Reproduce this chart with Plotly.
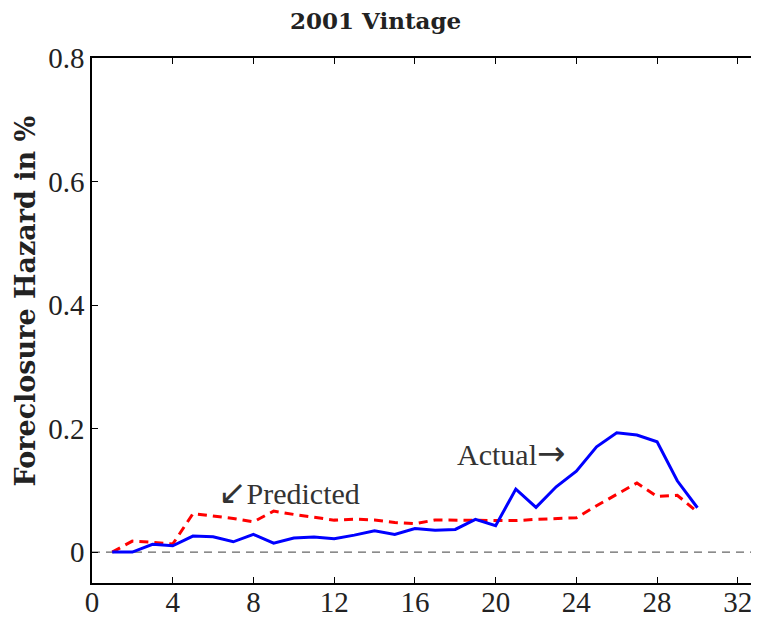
import plotly.graph_objects as go

months = list(range(1, 31))
actual = [0.0, 0.0, 0.0126, 0.0102, 0.0259, 0.0248, 0.0167, 0.0286, 0.0146, 0.0227,
          0.0243, 0.0216, 0.0275, 0.0345, 0.0286, 0.0383, 0.0356, 0.0367, 0.0530, 0.0427,
          0.1020, 0.0724, 0.1058, 0.1310, 0.1706, 0.1933, 0.1895, 0.1787, 0.1155, 0.0718]
predicted = [0.0, 0.0178, 0.0160, 0.0130, 0.0622, 0.0588, 0.0545, 0.0490, 0.0664, 0.0610,
             0.0570, 0.0518, 0.0534, 0.0518, 0.0480, 0.0460, 0.0520, 0.0520, 0.0520, 0.0510,
             0.0510, 0.0530, 0.0540, 0.0556, 0.0750, 0.0940, 0.1120, 0.0900, 0.0920, 0.0650]
x_ticks = [0, 4, 8, 12, 16, 20, 24, 28, 32]
y_ticks = [0, 0.2, 0.4, 0.6, 0.8]
y_tick_text = ["0", "0.2", "0.4", "0.6", "0.8"]

SERIF = "Liberation Serif, Times New Roman, serif"
BOLD = "DejaVu Serif, serif"
ARROW = "<span style='font-family:DejaVu Sans;font-size:{}px'>{}</span>"

# the page body adds an 8px margin, so the figure is made 8px smaller
W, H = 751, 611

fig = go.Figure()
fig.add_hline(y=0, line=dict(color="#666666", width=1.3, dash="8px,6px"), layer="below")
fig.add_trace(go.Scatter(x=months, y=predicted, mode="lines", name="Predicted",
                         line=dict(color="#FF0000", width=3, dash="9px,6px")))
fig.add_trace(go.Scatter(x=months, y=actual, mode="lines", name="Actual",
                         line=dict(color="#0000FF", width=3)))

fig.add_annotation(x=9.75, y=0.097, xref="x", yref="y",
                   text=ARROW.format(34, "↙") + "Predicted",
                   showarrow=False, font=dict(family=SERIF, size=30, color="#333333"),
                   xanchor="center", yanchor="middle")
fig.add_annotation(x=20.75, y=0.160, xref="x", yref="y",
                   text="Actual" + ARROW.format(34, "→"),
                   showarrow=False, font=dict(family=SERIF, size=30, color="#333333"),
                   xanchor="center", yanchor="middle")
fig.add_annotation(x=-0.1, y=0.537, xref="paper", yref="paper", text="<b>Foreclosure Hazard in %</b>",
                   textangle=-90, showarrow=False, font=dict(family=BOLD, size=27, color="#222222"),
                   xanchor="center", yanchor="middle")
# chart title
fig.add_annotation(x=(375.5 - 8 - 84) / 666, y=1 + (50 - 13) / 525, xref="paper", yref="paper",
                   text="<b>2001 Vintage</b>", showarrow=False,
                   font=dict(family=BOLD, size=23, color="#222222"),
                   xanchor="center", yanchor="middle")

fig.update_layout(
    width=W, height=H,
    margin=dict(l=84, r=1, t=50, b=36, autoexpand=False),
    paper_bgcolor="white", plot_bgcolor="white",
    showlegend=False,
)
fig.update_xaxes(range=[0, 33], tickvals=x_ticks, ticks="inside", ticklen=6, tickwidth=1,
                 tickcolor="black", showline=True, linecolor="black", linewidth=1.5, mirror="ticks",
                 showgrid=False, zeroline=False, automargin=False, ticklabelstandoff=-8,
                 tickfont=dict(family=SERIF, size=29, color="#222222"))
fig.update_yaxes(range=[-0.05, 0.8], tickvals=y_ticks, ticktext=y_tick_text, ticks="inside",
                 ticklen=6, tickwidth=1, tickcolor="black", showline=True, linecolor="black",
                 linewidth=1.5, mirror="ticks", showgrid=False, zeroline=False, automargin=False,
                 tickfont=dict(family=SERIF, size=29, color="#222222"))

fig.write_html("out.html")
